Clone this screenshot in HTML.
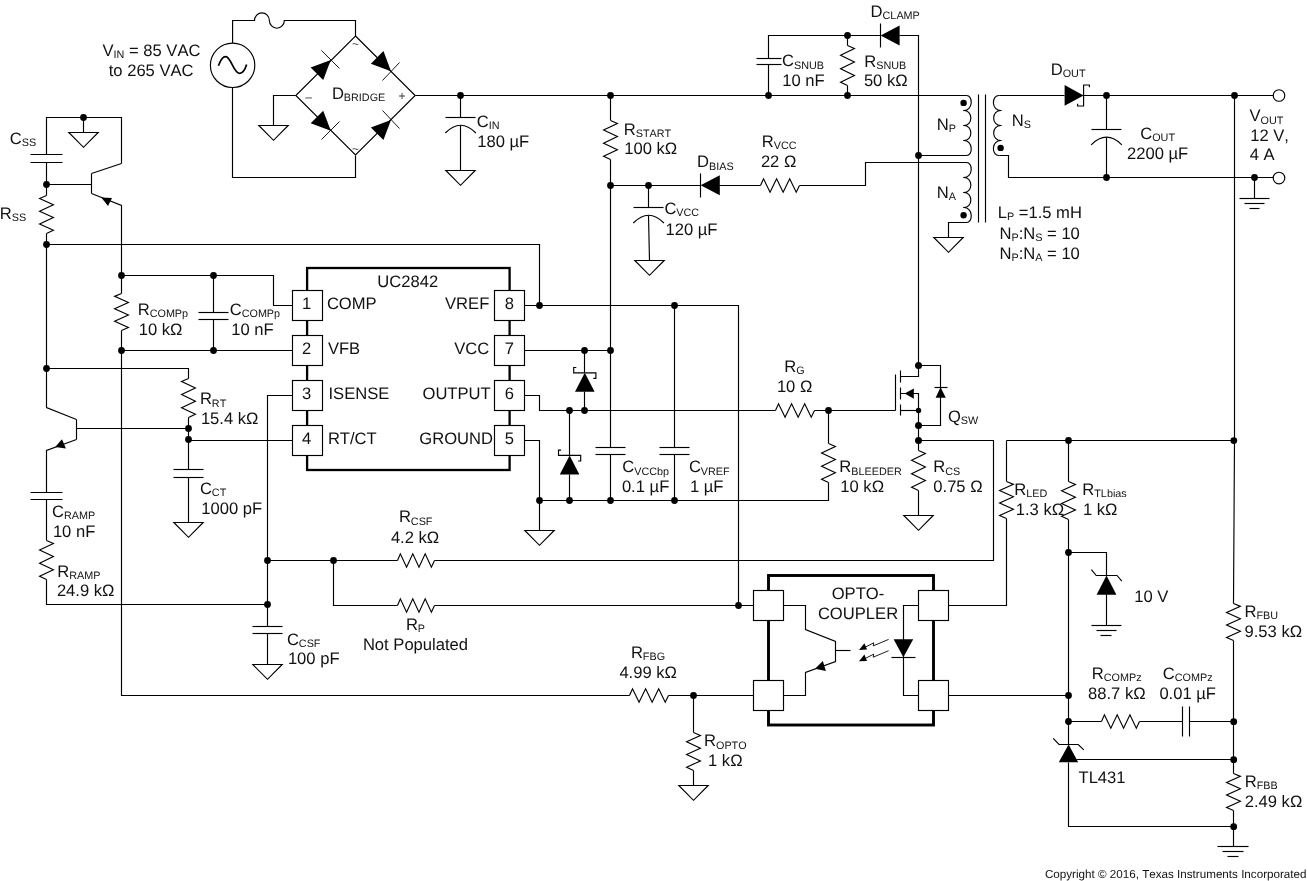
<!DOCTYPE html>
<html><head><meta charset="utf-8"><title>UC2842 flyback schematic</title>
<style>
html,body{margin:0;padding:0;background:#fff;}
body{width:1307px;height:881px;overflow:hidden;}
svg{display:block;will-change:transform;}
svg path,svg circle,svg rect,svg polygon{stroke:#000;stroke-width:1.15;fill:none;stroke-linejoin:miter;stroke-linecap:butt;}
svg .f{fill:#000;stroke:none;}
svg .o{fill:none;}
svg .w{fill:#fff;}
svg text{font-family:"Liberation Sans",sans-serif;font-size:16.6px;fill:#111;stroke:none;font-kerning:none;text-rendering:geometricPrecision;}
</style></head><body>
<svg width="1307" height="881" viewBox="0 0 1307 881">
<g>
<circle cx="232.6" cy="65.3" r="22.2" class="o"/>
<path d="M218.4 65.8 C221 58.5 223.3 56.4 225.8 56.6 C231 57 233.6 73.2 239.4 73.4 C243 73.5 245 70 246.6 64.6" style="stroke-width:1.7"/>
<path d="M232.6 43.1 L232.6 20.5 L254.5 20.5 A7.45 7.7 0 0 1 269.4 20.5 A7.45 7.7 0 0 0 284.3 20.5 L355.5 20.5 L355.5 36"/>
<path d="M232.5 87.5 L232.5 177.5 L355.5 177.5 L355.5 155.5"/>
<polygon points="355.5,36 415.2,95.5 355.5,155 295.8,95.5" class="o"/>
<path d="M295.5 95.5 L273.5 95.5 L273.5 125.5"/>
<polygon points="258.8,125.5 288.2,125.5 273.5,140.3" class="o"/>
<polygon points="330.8,59.9 323.23,80.05 310.65,67.47" class="f"/>
<path d="M339.5 68.5 L321.5 50.5" style="stroke-width:0.9"/>
<polygon points="391,71.2 370.85,63.63 383.43,51.05" class="f"/>
<path d="M382.5 80.5 L399.5 62.5" style="stroke-width:0.9"/>
<polygon points="330.8,130.8 310.65,123.23 323.23,110.65" class="f"/>
<path d="M321.5 139.5 L339.5 121.5" style="stroke-width:0.9"/>
<polygon points="391,119.9 383.43,140.05 370.85,127.47" class="f"/>
<path d="M399.5 128.5 L382.5 110.5" style="stroke-width:0.9"/>
<path d="M415.5 95.5 L966.5 95.5"/>
<circle cx="460.5" cy="95.5" r="3.4" class="f"/>
<path d="M460.5 95.5 L460.5 117.5"/>
<path d="M445.5 117.5 L475.5 117.5"/>
<path d="M445.3 133 Q460.6 117.4 475.9 133"/>
<path d="M460.5 125.5 L460.5 170.5"/>
<polygon points="445.8,170.5 475.2,170.5 460.5,185.3" class="o"/>
<circle cx="610.5" cy="95.5" r="3.4" class="f"/>
<path d="M610.5 95.5 L610.5 120.5"/>
<path d="M610.5 120.5 L617.4 123.52 L603.6 130.06 L617.4 136.6 L603.6 143.15 L617.4 149.69 L603.6 156.23 L610.5 159.5"/>
<path d="M610.5 159.5 L610.5 447.5"/>
<path d="M595.5 447.5 L625.5 447.5"/>
<path d="M595.5 454.5 L625.5 454.5"/>
<path d="M610.5 454.5 L610.5 500.5"/>
<circle cx="610.5" cy="185.5" r="3.4" class="f"/>
<circle cx="610.5" cy="350.5" r="3.4" class="f"/>
<circle cx="610.5" cy="500.5" r="3.4" class="f"/>
<path d="M610.5 185.5 L700.5 185.5"/>
<circle cx="648.5" cy="185.5" r="3.4" class="f"/>
<path d="M648.5 185.5 L648.5 207.5"/>
<path d="M633.5 207.5 L663.5 207.5"/>
<path d="M633.3 223 Q648.6 207.4 663.9 223"/>
<path d="M648.5 215.5 L649.5 260.5"/>
<polygon points="634.8,260.5 664.2,260.5 649.5,275.3" class="o"/>
<path d="M700.5 173.5 L700.5 197.5"/>
<polygon points="700.6,185.3 719.8,175.3 719.8,195.2" class="f"/>
<path d="M719.5 185.5 L760.5 185.5"/>
<path d="M760.5 185.5 L763.52 178.8 L770.06 192.2 L776.6 178.8 L783.15 192.2 L789.69 178.8 L796.23 192.2 L799.5 185.5"/>
<path d="M799.5 185.5 L865.5 185.5 L865.5 162.5 L966.5 162.5"/>
<circle cx="768.5" cy="95.5" r="3.4" class="f"/>
<path d="M768.5 95.5 L768.5 64.5"/>
<path d="M756.5 58.5 L781.5 58.5"/>
<path d="M756.5 64.5 L781.5 64.5"/>
<path d="M768.5 58.5 L768.5 35.5 L880.5 35.5"/>
<circle cx="847.5" cy="35.5" r="3.4" class="f"/>
<circle cx="847.5" cy="95.5" r="3.4" class="f"/>
<path d="M847.5 35.5 L847.5 45.5"/>
<path d="M847.5 45.5 L854.4 48.6 L840.6 55.31 L854.4 62.02 L840.6 68.73 L854.4 75.44 L840.6 82.15 L847.5 85.5"/>
<path d="M847.5 85.5 L847.5 95.5"/>
<path d="M880.5 23.5 L880.5 47.5"/>
<polygon points="880.6,35.6 899.6,25.4 899.6,45.6" class="f"/>
<path d="M899.5 35.5 L918.5 35.5 L918.5 365.5"/>
<circle cx="918.5" cy="155.5" r="3.4" class="f"/>
<path d="M918.5 155.5 L966.5 155.5"/>
<path d="M966 95.5 C973.4 94.7 973.4 111.3 963.2 110.5 L963.2 110.5 C973.4 109.7 973.4 126.3 963.2 125.5 L963.2 125.5 C973.4 124.7 973.4 141.3 963.2 140.5 L963.2 140.5 C973.4 139.7 973.4 156.3 966 155.5"/>
<path d="M966 162.5 C973.4 161.7 973.4 178.3 963.2 177.5 L963.2 177.5 C973.4 176.7 973.4 193.3 963.2 192.5 L963.2 192.5 C973.4 191.7 973.4 208.3 963.2 207.5 L963.2 207.5 C973.4 206.7 973.4 223.3 966 222.5"/>
<path d="M999.6 95.5 C991 94.7 991 111.3 1001.6 110.5 L1001.6 110.5 C991 109.7 991 126.3 1001.6 125.5 L1001.6 125.5 C991 124.7 991 141.3 1001.6 140.5 L1001.6 140.5 C991 139.7 991 156.3 999.6 155.5"/>
<path d="M978.5 94.5 L978.5 222.5"/>
<path d="M985.5 94.5 L985.5 222.5"/>
<circle cx="963.6" cy="102.9" r="3.2" class="f"/>
<circle cx="963.6" cy="215.3" r="3.2" class="f"/>
<circle cx="1000.6" cy="147.9" r="3.2" class="f"/>
<path d="M966.5 222.5 L948.5 222.5 L948.5 237.5"/>
<polygon points="933.8,237.5 963.2,237.5 948.5,252.3" class="o"/>
<path d="M999.5 95.5 L1064.5 95.5"/>
<polygon points="1064.6,85 1064.6,105.8 1083.6,95.5" class="f"/>
<path d="M1089.4 87.2 L1089.4 85 L1083.6 85 L1083.6 106 L1077.6 106 L1077.6 103.8"/>
<path d="M1083.5 95.5 L1273.5 95.5"/>
<circle cx="1279" cy="95.5" r="5.8" class="o"/>
<circle cx="1279" cy="178" r="5.8" class="o"/>
<circle cx="1106.5" cy="95.5" r="3.4" class="f"/>
<circle cx="1234.5" cy="95.5" r="3.4" class="f"/>
<path d="M1106.5 95.5 L1106.5 129.5"/>
<path d="M1091.5 129.5 L1121.5 129.5"/>
<path d="M1091.2 144.8 Q1106.5 129.6 1121.8 144.8"/>
<path d="M1106.5 137.5 L1106.5 177.5"/>
<circle cx="1106.5" cy="177.5" r="3.4" class="f"/>
<path d="M999.5 155.5 L1008.5 155.5 L1008.5 177.5 L1273.5 177.5"/>
<circle cx="1254.5" cy="177.5" r="3.4" class="f"/>
<path d="M1254.5 177.5 L1254.5 198.5"/>
<path d="M1239.5 198.5 L1269.5 198.5"/>
<path d="M1244.5 203.5 L1264.5 203.5"/>
<path d="M1249.5 208.5 L1259.5 208.5"/>
<path d="M1234.5 95.5 L1234.5 440.5 L1233.5 603.5"/>
<path d="M1233.5 603.5 L1240.4 606.36 L1226.6 612.57 L1240.4 618.78 L1226.6 624.98 L1240.4 631.19 L1226.6 637.4 L1233.5 640.5"/>
<path d="M1233.5 640.5 L1233.5 773.5"/>
<path d="M1233.5 773.5 L1240.4 776.36 L1226.6 782.57 L1240.4 788.78 L1226.6 794.98 L1240.4 801.19 L1226.6 807.4 L1233.5 810.5"/>
<path d="M1233.5 810.5 L1233.5 846.5"/>
<path d="M1217.5 846.5 L1248.5 846.5"/>
<path d="M1222.5 851.5 L1243.5 851.5"/>
<path d="M1227.5 856.5 L1238.5 856.5"/>
<circle cx="1233.8" cy="440.6" r="3.4" class="f"/>
<circle cx="1233.7" cy="721.7" r="3.4" class="f"/>
<circle cx="1233.7" cy="759.7" r="3.4" class="f"/>
<circle cx="1233.7" cy="826.7" r="3.4" class="f"/>
<path d="M46.5 154.5 L46.5 117.5 L121.5 117.5 L121.5 163.5"/>
<circle cx="83.5" cy="117.5" r="3.4" class="f"/>
<path d="M83.5 117.5 L83.5 132.5"/>
<polygon points="68.8,132.5 98.2,132.5 83.5,147.3" class="o"/>
<path d="M30.5 154.5 L62.5 154.5"/>
<path d="M30.5 162.5 L62.5 162.5"/>
<path d="M46.5 162.5 L46.5 195.5"/>
<circle cx="46.5" cy="184.5" r="3.4" class="f"/>
<path d="M46.5 195.5 L39.6 198.44 L53.4 204.82 L39.6 211.19 L53.4 217.56 L39.6 223.94 L53.4 230.31 L46.5 233.5"/>
<path d="M46.5 233.5 L46.5 407.5 L76.5 419.5"/>
<circle cx="46.5" cy="244.5" r="3.4" class="f"/>
<circle cx="46.5" cy="368.5" r="3.4" class="f"/>
<path d="M46.5 184.5 L91.5 184.5"/>
<path d="M91.5 173.5 L91.5 193.5"/>
<path d="M91.5 173.5 L121.5 163.5"/>
<path d="M91.5 193.5 L121.5 205.5 L121.5 293.5"/>
<polygon points="101.3,197.4 112,198 108,206" class="f"/>
<path d="M46.5 244.5 L539.5 244.5 L539.5 305.5"/>
<circle cx="121.5" cy="275.5" r="3.4" class="f"/>
<path d="M121.5 275.5 L273.5 275.5 L273.5 305.5 L292.5 305.5"/>
<circle cx="213.5" cy="275.5" r="3.4" class="f"/>
<path d="M121.5 293.5 L114.6 296.36 L128.4 302.57 L114.6 308.78 L128.4 314.98 L114.6 321.19 L128.4 327.4 L121.5 330.5"/>
<path d="M121.5 330.5 L121.5 695.5 L629.5 695.5"/>
<circle cx="121.5" cy="350.5" r="3.4" class="f"/>
<path d="M121.5 350.5 L292.5 350.5"/>
<path d="M213.5 275.5 L213.5 312.5"/>
<path d="M198.5 312.5 L228.5 312.5"/>
<path d="M198.5 319.5 L228.5 319.5"/>
<path d="M213.5 319.5 L213.5 350.5"/>
<circle cx="213.5" cy="350.5" r="3.4" class="f"/>
<path d="M46.5 368.5 L188.5 368.5 L188.5 378.5"/>
<path d="M188.5 378.5 L181.6 381.52 L195.4 388.06 L181.6 394.6 L195.4 401.15 L181.6 407.69 L195.4 414.23 L188.5 417.5"/>
<path d="M188.5 417.5 L188.5 469.5"/>
<circle cx="188.5" cy="428.5" r="3.4" class="f"/>
<circle cx="188.5" cy="439.5" r="3.4" class="f"/>
<path d="M188.5 440.5 L292.5 440.5"/>
<path d="M173.5 469.5 L203.5 469.5"/>
<path d="M173.5 477.5 L203.5 477.5"/>
<path d="M188.5 477.5 L188.5 522.5"/>
<polygon points="173.8,522.5 203.2,522.5 188.5,537.3" class="o"/>
<path d="M76.5 419.5 L76.5 439.5"/>
<path d="M76.5 428.5 L188.5 428.5"/>
<path d="M76.5 439.5 L46.5 450.5 L46.5 492.5"/>
<polygon points="55.2,446.9 62,439.3 65.9,448.6" class="f"/>
<path d="M30.5 492.5 L62.5 492.5"/>
<path d="M30.5 499.5 L62.5 499.5"/>
<path d="M46.5 499.5 L46.5 540.5"/>
<path d="M46.5 540.5 L53.4 543.52 L39.6 550.06 L53.4 556.6 L39.6 563.15 L53.4 569.69 L39.6 576.23 L46.5 579.5"/>
<path d="M46.5 579.5 L46.5 604.5 L267.5 604.5"/>
<path d="M292.5 395.5 L267.5 395.5 L267.5 626.5"/>
<circle cx="267.5" cy="560.5" r="3.4" class="f"/>
<circle cx="267.5" cy="604.5" r="3.4" class="f"/>
<path d="M252.5 626.5 L282.5 626.5"/>
<path d="M252.5 633.5 L282.5 633.5"/>
<path d="M267.5 633.5 L267.5 664.5"/>
<polygon points="252.8,664.5 282.2,664.5 267.5,679.3" class="o"/>
<path d="M267.5 560.5 L397.5 560.5"/>
<path d="M397.5 560.5 L400.36 553.8 L406.57 567.2 L412.78 553.8 L418.98 567.2 L425.19 553.8 L431.4 567.2 L434.5 560.5"/>
<path d="M434.5 560.5 L993.5 560.5 L993.5 440.5 L918.5 440.5"/>
<circle cx="333.5" cy="560.5" r="3.4" class="f"/>
<path d="M333.5 560.5 L333.5 605.5 L397.5 605.5"/>
<path d="M397.5 605.5 L400.36 598.8 L406.57 612.2 L412.78 598.8 L418.98 612.2 L425.19 598.8 L431.4 612.2 L434.5 605.5"/>
<path d="M434.5 605.5 L753.5 605.5"/>
<rect x="307.1" y="268" width="202.5" height="202" class="o" style="stroke-width:2.3"/>
<rect x="292.5" y="290.5" width="30" height="30" class="w"/>
<rect x="494.5" y="290.5" width="30" height="30" class="w"/>
<rect x="292.5" y="335.5" width="30" height="30" class="w"/>
<rect x="494.5" y="335.5" width="30" height="30" class="w"/>
<rect x="292.5" y="380.5" width="30" height="30" class="w"/>
<rect x="494.5" y="380.5" width="30" height="30" class="w"/>
<rect x="292.5" y="425.5" width="30" height="30" class="w"/>
<rect x="494.5" y="425.5" width="30" height="30" class="w"/>
<path d="M524.5 305.5 L738.5 305.5 L738.5 605.5"/>
<circle cx="539.5" cy="305.5" r="3.4" class="f"/>
<circle cx="674.5" cy="305.5" r="3.4" class="f"/>
<path d="M674.5 305.5 L674.5 447.5"/>
<path d="M659.5 447.5 L689.5 447.5"/>
<path d="M659.5 454.5 L689.5 454.5"/>
<path d="M674.5 454.5 L674.5 500.5"/>
<circle cx="674.5" cy="500.5" r="3.4" class="f"/>
<circle cx="738.5" cy="605.5" r="3.4" class="f"/>
<path d="M524.5 350.5 L610.5 350.5"/>
<circle cx="584.5" cy="350.5" r="3.4" class="f"/>
<path d="M584.5 350.5 L584.5 372.5"/>
<polygon points="584.8,372.8 575,391.7 594.6,391.7" class="f"/>
<path d="M576.3 367.5 L573.7 367.5 L573.7 372.8 L595.9 372.8 L595.9 378.4 L593.3 378.4"/>
<path d="M584.5 391.5 L584.5 410.5"/>
<circle cx="584.5" cy="410.5" r="3.4" class="f"/>
<path d="M524.5 395.5 L539.5 395.5 L539.5 410.5 L775.5 410.5"/>
<circle cx="569.5" cy="410.5" r="3.4" class="f"/>
<path d="M569.5 410.5 L569.5 455.5"/>
<polygon points="569.6,455.4 559.8,474.4 579.4,474.4" class="f"/>
<path d="M561.1 450.1 L558.5 450.1 L558.5 455.4 L580.7 455.4 L580.7 461 L578.1 461"/>
<path d="M569.5 474.5 L569.5 500.5"/>
<circle cx="569.5" cy="500.5" r="3.4" class="f"/>
<path d="M775.5 410.5 L778.52 403.8 L785.06 417.2 L791.6 403.8 L798.15 417.2 L804.69 403.8 L811.23 417.2 L814.5 410.5"/>
<path d="M814.5 410.5 L895.5 410.5"/>
<circle cx="828.5" cy="410.5" r="3.4" class="f"/>
<path d="M828.5 410.5 L828.5 443.5"/>
<path d="M828.5 443.5 L835.4 446.52 L821.6 453.06 L835.4 459.6 L821.6 466.15 L835.4 472.69 L821.6 479.23 L828.5 482.5"/>
<path d="M828.5 482.5 L828.5 500.5 L539.5 500.5"/>
<path d="M524.5 440.5 L539.5 440.5 L539.5 530.5"/>
<circle cx="539.5" cy="500.5" r="3.4" class="f"/>
<polygon points="524.8,530.5 554.2,530.5 539.5,545.3" class="o"/>
<path d="M895.5 374.5 L895.5 410.5"/>
<path d="M900.5 370.5 L900.5 382.5"/>
<path d="M900.5 387.5 L900.5 399.5"/>
<path d="M900.5 404.5 L900.5 415.5"/>
<path d="M900.5 376.5 L918.5 376.5 L918.5 365.5"/>
<circle cx="918.5" cy="365.5" r="3.5" class="f"/>
<path d="M900.5 393.5 L918.5 393.5 L918.5 450.5"/>
<polygon points="904.6,393.4 913.8,388.4 913.8,398.8" class="f"/>
<path d="M900.5 410.5 L918.5 410.5"/>
<circle cx="918.5" cy="410.5" r="2.7" class="f"/>
<circle cx="918.5" cy="425.5" r="3.5" class="f"/>
<circle cx="918.5" cy="440.5" r="3.5" class="f"/>
<path d="M918.5 365.5 L940.5 365.5 L940.5 425.5 L918.5 425.5"/>
<path d="M934.5 387.5 L947.5 387.5"/>
<polygon points="940.6,387.2 935.6,397.8 945.8,397.8" class="f"/>
<path d="M918.5 450.5 L925.4 453.6 L911.6 460.31 L925.4 467.02 L911.6 473.73 L925.4 480.44 L911.6 487.15 L918.5 490.5"/>
<path d="M918.5 490.5 L918.5 515.5"/>
<polygon points="903.8,515.5 933.2,515.5 918.5,530.3" class="o"/>
<path d="M1006.5 440.5 L1234.5 440.5"/>
<path d="M1006.5 440.5 L1006.5 481.5"/>
<path d="M1006.5 481.5 L1013.4 484.36 L999.6 490.57 L1013.4 496.78 L999.6 502.98 L1013.4 509.19 L999.6 515.4 L1006.5 518.5"/>
<path d="M1006.5 518.5 L1006.5 605.5 L948.5 605.5"/>
<circle cx="1068.5" cy="440.5" r="3.4" class="f"/>
<path d="M1068.5 440.5 L1068.5 481.5"/>
<path d="M1068.5 481.5 L1075.4 484.44 L1061.6 490.82 L1075.4 497.19 L1061.6 503.56 L1075.4 509.94 L1061.6 516.31 L1068.5 519.5"/>
<path d="M1068.5 519.5 L1068.5 744.5"/>
<circle cx="1068.5" cy="552.5" r="3.4" class="f"/>
<circle cx="1068.5" cy="695.5" r="3.4" class="f"/>
<circle cx="1068.5" cy="721.5" r="3.4" class="f"/>
<path d="M1068.5 552.5 L1106.5 552.5 L1106.5 575.5"/>
<path d="M1091.4 569.6 L1096.2 575.5 L1117 575.5 L1121.8 581.2"/>
<polygon points="1106.5,575.5 1096.6,594.8 1116.4,594.8" class="f"/>
<path d="M1106.5 594.5 L1106.5 625.5"/>
<path d="M1091.5 625.5 L1121.5 625.5"/>
<path d="M1096.5 630.5 L1116.5 630.5"/>
<path d="M1100.5 635.5 L1111.5 635.5"/>
<path d="M948.5 695.5 L1068.5 695.5"/>
<path d="M1068.5 721.5 L1101.5 721.5"/>
<path d="M1101.5 721.5 L1104.44 714.8 L1110.82 728.2 L1117.19 714.8 L1123.56 728.2 L1129.94 714.8 L1136.31 728.2 L1139.5 721.5"/>
<path d="M1139.5 721.5 L1182.5 721.5"/>
<path d="M1182.5 706.5 L1182.5 736.5"/>
<path d="M1189.5 706.5 L1189.5 736.5"/>
<path d="M1189.5 721.5 L1233.5 721.5"/>
<path d="M1053.2 738.4 L1059 744.5 L1078.2 744.5 L1083.8 749.8"/>
<polygon points="1068.6,744.6 1058.8,762.2 1078.2,762.2" class="f"/>
<path d="M1068.5 762.5 L1068.5 826.5 L1233.5 826.5"/>
<path d="M1076.5 759.5 L1233.5 759.5"/>
<rect x="768.5" y="575.5" width="165" height="149.5" class="o" style="stroke-width:2.9"/>
<rect x="753.5" y="590.5" width="30" height="30" class="w"/>
<rect x="753.5" y="680.5" width="30" height="30" class="w"/>
<rect x="918.5" y="590.5" width="30" height="30" class="w"/>
<rect x="918.5" y="680.5" width="30" height="30" class="w"/>
<path d="M783.5 605.5 L805.5 605.5 L805.5 629.5 L835.5 641.5 L835.5 661.5 L805.5 672.5 L805.5 695.5 L783.5 695.5"/>
<path d="M835.5 650.5 L850.5 650.5"/>
<polygon points="815,668.7 822.8,661 825.9,671" class="f"/>
<path d="M918.5 605.5 L903.5 605.5 L903.5 695.5 L918.5 695.5"/>
<polygon points="893.6,639.2 913.2,639.2 903.4,657.2" class="f"/>
<path d="M891.5 657.5 L915.5 657.5"/>
<path d="M888.6 639.4 L873.2 645.9 L873.8 642.8 L863.6 648" style="stroke-width:0.9"/>
<polygon points="859,650 864.4,643.2 867,649.6" class="f"/>
<path d="M888.6 650.7 L873.2 657.2 L873.8 654.1 L863.6 659.3" style="stroke-width:0.9"/>
<polygon points="859,661.3 864.4,654.5 867,660.9" class="f"/>
<path d="M629.5 695.5 L632.52 688.8 L639.06 702.2 L645.6 688.8 L652.15 702.2 L658.69 688.8 L665.23 702.2 L668.5 695.5"/>
<path d="M668.5 695.5 L753.5 695.5"/>
<circle cx="693.5" cy="695.5" r="3.4" class="f"/>
<path d="M693.5 695.5 L693.5 732.5"/>
<path d="M693.5 732.5 L700.4 735.44 L686.6 741.82 L700.4 748.19 L686.6 754.56 L700.4 760.94 L686.6 767.31 L693.5 770.5"/>
<path d="M693.5 770.5 L693.5 785.5"/>
<polygon points="678.8,785.5 708.2,785.5 693.5,800.3" class="o"/>
</g>
<g transform="translate(-0.3,-0.2)">
<text x="355.7" y="48.4" text-anchor="middle" style="font-size:12px;fill:#333">~</text>
<text x="355.7" y="153.3" text-anchor="middle" style="font-size:12px;fill:#333">~</text>
<text x="308.8" y="101.4" text-anchor="middle" style="font-size:12px;fill:#333">–</text>
<text x="402.3" y="100.5" text-anchor="middle" style="font-size:12px;fill:#333">+</text>
<text x="332.2" y="99.5">D<tspan font-size="10.8" dy="2.2">BRIDGE</tspan></text>
<text x="102.8" y="56.2">V<tspan font-size="10.8" dy="2.2">IN</tspan><tspan dy="-2.2"> = 85 VAC</tspan></text>
<text x="109" y="76.2">to 265 VAC</text>
<text x="477" y="127.2">C<tspan font-size="10.8" dy="2.2">IN</tspan></text>
<text x="477.5" y="147">180 µF</text>
<text x="624" y="134.8">R<tspan font-size="10.8" dy="2.2">START</tspan></text>
<text x="624.5" y="154.6">100 kΩ</text>
<text x="664.7" y="214.5">C<tspan font-size="10.8" dy="2.2">VCC</tspan></text>
<text x="665.8" y="235.2">120 µF</text>
<text x="697.3" y="167.6">D<tspan font-size="10.8" dy="2.2">BIAS</tspan></text>
<text x="762" y="147.4">R<tspan font-size="10.8" dy="2.2">VCC</tspan></text>
<text x="761.2" y="167.7">22 Ω</text>
<text x="870.9" y="17.3">D<tspan font-size="10.8" dy="2.2">CLAMP</tspan></text>
<text x="782.4" y="66.6">C<tspan font-size="10.8" dy="2.2">SNUB</tspan></text>
<text x="782.5" y="86.7">10 nF</text>
<text x="864.5" y="66.9">R<tspan font-size="10.8" dy="2.2">SNUB</tspan></text>
<text x="864.2" y="86.7">50 kΩ</text>
<text x="937" y="130">N<tspan font-size="10.8" dy="2.2">P</tspan></text>
<text x="937" y="198">N<tspan font-size="10.8" dy="2.2">A</tspan></text>
<text x="1012" y="126">N<tspan font-size="10.8" dy="2.2">S</tspan></text>
<text x="998" y="218.5">L<tspan font-size="10.8" dy="2.2">P</tspan><tspan dy="-2.2"> =1.5 mH</tspan></text>
<text x="999.8" y="239">N<tspan font-size="10.8" dy="2.2">P</tspan><tspan dy="-2.2">:N</tspan><tspan font-size="10.8" dy="2.2">S</tspan><tspan dy="-2.2"> = 10</tspan></text>
<text x="999.8" y="259">N<tspan font-size="10.8" dy="2.2">P</tspan><tspan dy="-2.2">:N</tspan><tspan font-size="10.8" dy="2.2">A</tspan><tspan dy="-2.2"> = 10</tspan></text>
<text x="1051" y="75">D<tspan font-size="10.8" dy="2.2">OUT</tspan></text>
<text x="1140.5" y="139.2">C<tspan font-size="10.8" dy="2.2">OUT</tspan></text>
<text x="1127.3" y="159">2200 µF</text>
<text x="1249.8" y="121.6">V<tspan font-size="10.8" dy="2.2">OUT</tspan></text>
<text x="1250.5" y="140.8">12 V,</text>
<text x="1250" y="160.2">4 A</text>
<text x="1244.8" y="617.2">R<tspan font-size="10.8" dy="2.2">FBU</tspan></text>
<text x="1244.8" y="637">9.53 kΩ</text>
<text x="1245" y="787.1">R<tspan font-size="10.8" dy="2.2">FBB</tspan></text>
<text x="1245" y="807.5">2.49 kΩ</text>
<text x="10" y="144.5">C<tspan font-size="10.8" dy="2.2">SS</tspan></text>
<text x="0.1" y="218.8">R<tspan font-size="10.8" dy="2.2">SS</tspan></text>
<text x="138" y="315">R<tspan font-size="10.8" dy="2.2">COMPp</tspan></text>
<text x="139" y="335">10 kΩ</text>
<text x="230" y="315">C<tspan font-size="10.8" dy="2.2">COMPp</tspan></text>
<text x="231.5" y="335">10 nF</text>
<text x="200.2" y="404.6">R<tspan font-size="10.8" dy="2.2">RT</tspan></text>
<text x="201.2" y="424">15.4 kΩ</text>
<text x="200.2" y="494.1">C<tspan font-size="10.8" dy="2.2">CT</tspan></text>
<text x="201.6" y="514">1000 pF</text>
<text x="52.3" y="517">C<tspan font-size="10.8" dy="2.2">RAMP</tspan></text>
<text x="53.2" y="537.1">10 nF</text>
<text x="57.6" y="577">R<tspan font-size="10.8" dy="2.2">RAMP</tspan></text>
<text x="57.2" y="596.5">24.9 kΩ</text>
<text x="287.2" y="645">C<tspan font-size="10.8" dy="2.2">CSF</tspan></text>
<text x="288.2" y="664.5">100 pF</text>
<text x="399.2" y="522.6">R<tspan font-size="10.8" dy="2.2">CSF</tspan></text>
<text x="391.2" y="543.4">4.2 kΩ</text>
<text x="406.2" y="630">R<tspan font-size="10.8" dy="2.2">P</tspan></text>
<text x="363.2" y="650.4">Not Populated</text>
<text x="307" y="309.7" text-anchor="middle">1</text>
<text x="509.6" y="309.7" text-anchor="middle">8</text>
<text x="307" y="354.7" text-anchor="middle">2</text>
<text x="509.6" y="354.7" text-anchor="middle">7</text>
<text x="307" y="399.7" text-anchor="middle">3</text>
<text x="509.6" y="399.7" text-anchor="middle">6</text>
<text x="307" y="444.7" text-anchor="middle">4</text>
<text x="509.6" y="444.7" text-anchor="middle">5</text>
<text x="377.6" y="287.1">UC2842</text>
<text x="327.2" y="309.6">COMP</text>
<text x="489.6" y="309.6" text-anchor="end">VREF</text>
<text x="328.2" y="354.6">VFB</text>
<text x="489.6" y="354.6" text-anchor="end">VCC</text>
<text x="328.8" y="399.5">ISENSE</text>
<text x="491" y="399.5" text-anchor="end">OUTPUT</text>
<text x="328.2" y="444.5">RT/CT</text>
<text x="493.3" y="444.5" text-anchor="end">GROUND</text>
<text x="622.5" y="472.6">C<tspan font-size="10.8" dy="2.2">VCCbp</tspan></text>
<text x="622.2" y="492">0.1 µF</text>
<text x="689.2" y="472.6">C<tspan font-size="10.8" dy="2.2">VREF</tspan></text>
<text x="690.2" y="492">1 µF</text>
<text x="784.6" y="372.2">R<tspan font-size="10.8" dy="2.2">G</tspan></text>
<text x="777.2" y="392.6">10 Ω</text>
<text x="839.6" y="472.6">R<tspan font-size="10.8" dy="2.2">BLEEDER</tspan></text>
<text x="840.6" y="492">10 kΩ</text>
<text x="948.2" y="422.2">Q<tspan font-size="10.8" dy="2.2">SW</tspan></text>
<text x="933.6" y="472.6">R<tspan font-size="10.8" dy="2.2">CS</tspan></text>
<text x="933.6" y="492">0.75 Ω</text>
<text x="1014.6" y="495">R<tspan font-size="10.8" dy="2.2">LED</tspan></text>
<text x="1016" y="514.8">1.3 kΩ</text>
<text x="1082.6" y="495">R<tspan font-size="10.8" dy="2.2">TLbias</tspan></text>
<text x="1083.2" y="514.8">1 kΩ</text>
<text x="1134.6" y="602.7">10 V</text>
<text x="1092.1" y="679.1">R<tspan font-size="10.8" dy="2.2">COMPz</tspan></text>
<text x="1088.3" y="699.1">88.7 kΩ</text>
<text x="1163.1" y="679.1">C<tspan font-size="10.8" dy="2.2">COMPz</tspan></text>
<text x="1159.7" y="699.1">0.01 µF</text>
<text x="1078.8" y="783.2">TL431</text>
<text x="832" y="599.3">OPTO-</text>
<text x="818.2" y="619.6">COUPLER</text>
<text x="631.2" y="658.2">R<tspan font-size="10.8" dy="2.2">FBG</tspan></text>
<text x="619.7" y="678.1">4.99 kΩ</text>
<text x="704.3" y="746.7">R<tspan font-size="10.8" dy="2.2">OPTO</tspan></text>
<text x="708.3" y="766.1">1 kΩ</text>
<text x="1306.8" y="878.3" text-anchor="end" style="font-size:11.65px">Copyright © 2016, Texas Instruments Incorporated</text>
</g>
</svg>
</body></html>
